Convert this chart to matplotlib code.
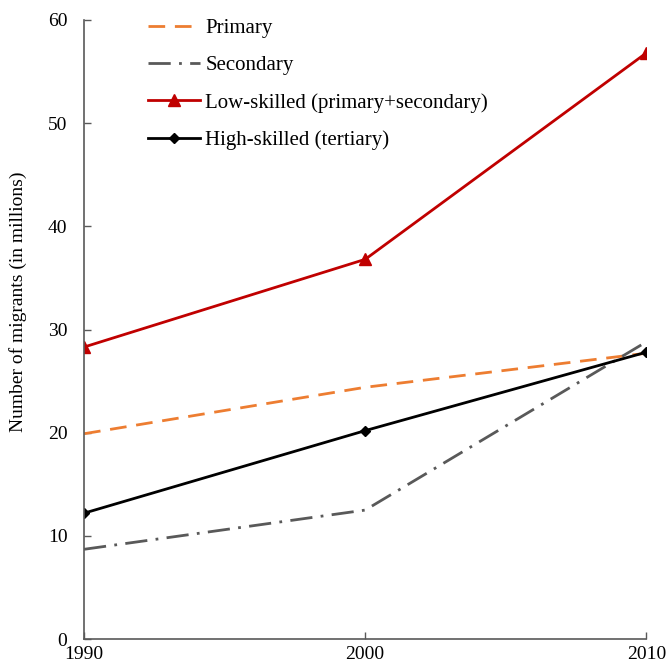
import matplotlib.pyplot as plt

plt.rcParams['font.family'] = ['Liberation Serif', 'DejaVu Serif']

years = [1990, 2000, 2010]
primary = [19.9, 24.4, 27.7]
secondary = [8.7, 12.5, 28.8]
low_skilled = [28.3, 36.8, 56.8]
high_skilled = [12.2, 20.2, 27.8]

fig = plt.figure(figsize=(6.67, 6.65), dpi=100)
ax = fig.add_axes([0.126, 0.039, 0.843, 0.931])

ax.plot(years, primary, color='#ED7D31', lw=2, dashes=(6, 3.5), label='Primary')
ax.plot(years, secondary, color='#595959', lw=2, dashes=(8, 3, 1, 3),
        label='Secondary')
ax.plot(years, low_skilled, color='#C00000', lw=2, marker='^', ms=8,
        label='Low-skilled (primary+secondary)')
ax.plot(years, high_skilled, color='black', lw=2, marker='D', ms=5.5,
        label='High-skilled (tertiary)')

ax.set_xlim(1990, 2010)
ax.set_ylim(0, 60)
ax.set_xticks(years)
ax.set_yticks(range(0, 61, 10))
ax.tick_params(direction='in', length=5, width=1, color='#595959',
               labelsize=14)
ax.tick_params(axis='y', pad=12)
ax.tick_params(axis='x', pad=5)
for s in ['top', 'right']:
    ax.spines[s].set_visible(False)
for s in ['left', 'bottom']:
    ax.spines[s].set_color('#595959')
    ax.spines[s].set_linewidth(1.2)

ax.set_ylabel('Number of migrants (in millions)', fontsize=14)
ax.yaxis.set_label_coords(-0.101, 0.545)

ax.legend(loc='upper left', bbox_to_anchor=(0.0805, 1.033), frameon=False,
          fontsize=15, labelspacing=0.85, handlelength=2.5, handletextpad=0.25)

fig.savefig('out.png', dpi=100)
